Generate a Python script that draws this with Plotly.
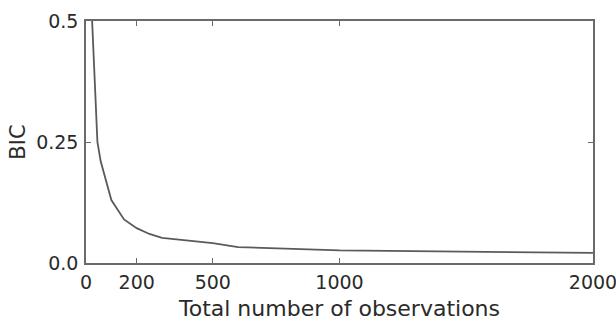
import plotly.graph_objects as go

n_obs = [20, 45, 58, 100, 150, 200, 250, 300, 500, 600, 1000, 2000]
bic = [0.55, 0.25, 0.21, 0.13, 0.09, 0.072, 0.06, 0.052, 0.041, 0.033, 0.026, 0.021]

x_ticks = [0, 200, 500, 1000, 2000]
y_ticks = [0.0, 0.25, 0.5]
y_tick_labels = ["0.0", "0.25", "0.5"]

fig = go.Figure(go.Scatter(x=n_obs, y=bic, mode="lines",
                           line=dict(color="#5a5a5a", width=1.8), cliponaxis=True))

axis_common = dict(showline=True, linecolor="#6a6a6a", linewidth=1.5, mirror="ticks",
                   ticks="inside", ticklen=5, tickcolor="#6a6a6a", tickwidth=1,
                   showgrid=False, zeroline=False, automargin=False,
                   ticklabeloverflow="allow",
                   tickfont=dict(family="DejaVu Sans", size=19, color="#2a2a2a"))

fig.update_layout(
    width=616, height=322,
    margin=dict(l=86, r=23, t=21, b=59),
    paper_bgcolor="white", plot_bgcolor="white",
    showlegend=False,
    font=dict(family="DejaVu Sans", color="#2a2a2a"),
    xaxis=dict(range=[0, 2000], tickvals=x_ticks, ticktext=[str(v) for v in x_ticks],
               ticklabelstandoff=1,
               title=dict(text="Total number of observations", font=dict(size=22), standoff=9),
               **axis_common),
    yaxis=dict(range=[0, 0.5], tickvals=y_ticks, ticktext=y_tick_labels,
               ticklabelstandoff=2,
               title=dict(text="BIC", font=dict(size=21), standoff=5),
               **axis_common),
)

fig.write_html("out.html", config={"displayModeBar": False},
               post_script="document.body.style.margin='0';document.body.style.overflow='hidden';")
